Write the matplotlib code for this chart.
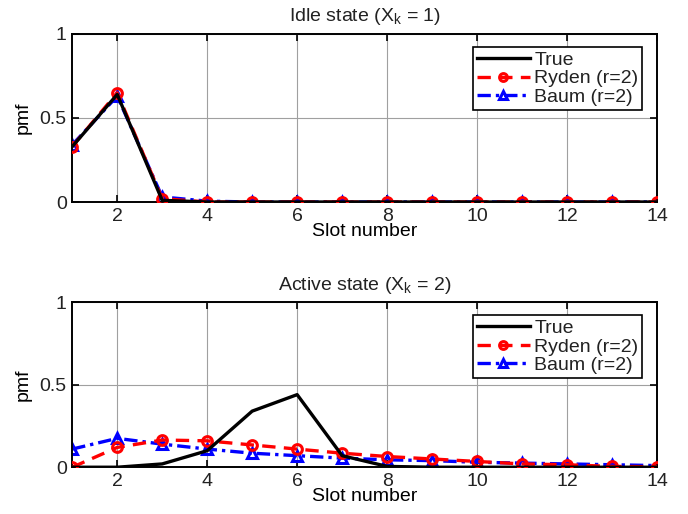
import matplotlib
matplotlib.use("Agg")
import matplotlib.pyplot as plt

slots = list(range(1, 15))

# idle state (X_k = 1)
idle_true = [0.33, 0.64, 0.01, 0.0, 0.0, 0.0, 0.0, 0.0, 0.0, 0.0, 0.0, 0.0, 0.0, 0.0]
idle_ryden = [0.33, 0.65, 0.02, 0.0, 0.0, 0.0, 0.0, 0.0, 0.0, 0.0, 0.0, 0.0, 0.0, 0.0]
idle_baum = [0.34, 0.63, 0.03, 0.005, 0.0, 0.0, 0.0, 0.0, 0.0, 0.0, 0.0, 0.0, 0.0, 0.0]

# active state (X_k = 2)
active_true = [0.0, 0.0, 0.02, 0.1, 0.34, 0.44, 0.07, 0.005, 0.0, 0.0, 0.0, 0.0, 0.0, 0.0]
active_ryden = [0.0, 0.12, 0.165, 0.16, 0.135, 0.11, 0.085, 0.065, 0.05, 0.035, 0.02, 0.015, 0.005, 0.003]
active_baum = [0.11, 0.175, 0.14, 0.11, 0.085, 0.07, 0.055, 0.045, 0.04, 0.03, 0.025, 0.02, 0.015, 0.01]

plt.rcParams["font.family"] = ["Liberation Sans", "DejaVu Sans"]
plt.rcParams["font.size"] = 14
plt.rcParams["mathtext.fontset"] = "custom"
plt.rcParams["mathtext.rm"] = "Liberation Sans"
plt.rcParams["text.color"] = "#222222"

fig = plt.figure(figsize=(6.88, 5.14), dpi=100)
ax1 = fig.add_axes([0.105, 0.607, 0.850, 0.327])
ax2 = fig.add_axes([0.105, 0.091, 0.850, 0.321])


def draw_panel(ax, y_true, y_ryden, y_baum, title):
    ax.plot(slots, y_true, color="black", lw=2.4, label="True", zorder=4)
    ax.plot(slots, y_ryden, color="red", lw=2.4, ls=(0, (4, 2.5)), marker="o",
            ms=7, mfc="none", mew=2.2, label="Ryden (r=2)", zorder=3)
    ax.plot(slots, y_baum, color="blue", lw=2.4, ls=(0, (4, 1.5, 1, 1.5)), marker="^",
            ms=7, mfc="none", mew=2.2, label="Baum (r=2)", zorder=2)
    ax.set_xlim(1, 14)
    ax.set_ylim(0, 1)
    ax.set_xticks(range(2, 15, 2))
    ax.set_yticks([0, 0.5, 1])
    ax.set_yticklabels(["0", "0.5", "1"])
    ax.grid(True, color="#a0a0a0", lw=0.8)
    ax.tick_params(direction="in", length=5, width=1.2, top=True, right=True, pad=4,
                   labelcolor="#222222")
    for s in ax.spines.values():
        s.set_linewidth(1.4)
    ax.set_xlabel("Slot number", labelpad=-1)
    ax.set_ylabel("pmf", labelpad=6)
    ax.set_title(title, fontsize=14, pad=9)
    leg = ax.legend(loc="upper right", bbox_to_anchor=(0.975, 0.92), fancybox=False,
                    edgecolor="black", framealpha=1, handlelength=2.7,
                    handletextpad=0.25, borderpad=0.2, labelspacing=0.05,
                    borderaxespad=0, markerscale=0.8)
    leg.get_frame().set_linewidth(1.2)


draw_panel(ax1, idle_true, idle_ryden, idle_baum, "Idle state (X$_{\\mathrm{k}}$ = 1)")
draw_panel(ax2, active_true, active_ryden, active_baum, "Active state (X$_{\\mathrm{k}}$ = 2)")

fig.savefig("out.png", dpi=100)
